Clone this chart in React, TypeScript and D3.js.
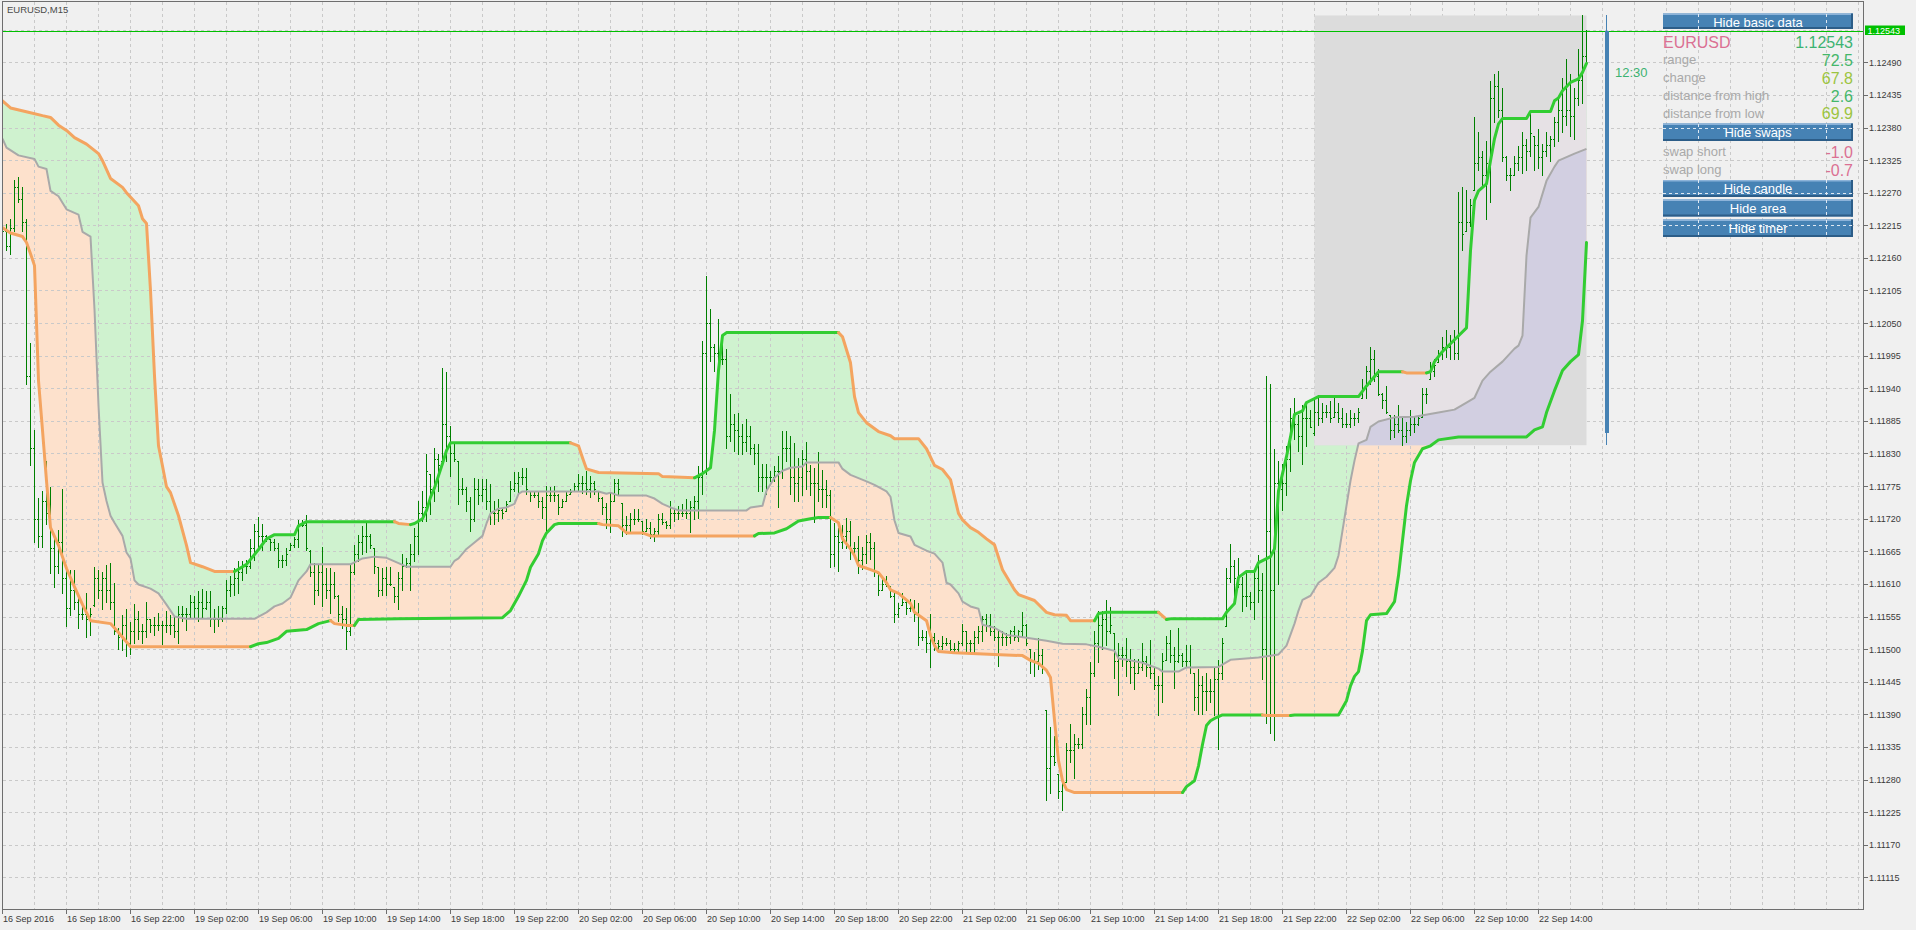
import React from "react";
import * as d3 from "d3";

// ---------------- DATA ----------------
const chartTitle = "EURUSD,M15";

const timeLabels = [
  "16 Sep 2016", "16 Sep 18:00", "16 Sep 22:00", "19 Sep 02:00", "19 Sep 06:00", "19 Sep 10:00",
  "19 Sep 14:00", "19 Sep 18:00", "19 Sep 22:00", "20 Sep 02:00", "20 Sep 06:00", "20 Sep 10:00",
  "20 Sep 14:00", "20 Sep 18:00", "20 Sep 22:00", "21 Sep 02:00", "21 Sep 06:00", "21 Sep 10:00",
  "21 Sep 14:00", "21 Sep 18:00", "21 Sep 22:00", "22 Sep 02:00", "22 Sep 06:00", "22 Sep 10:00",
  "22 Sep 14:00",
];
const barsPerLabel = 16; // M15 bars between time labels (4 hours)
const barsPerGrid = 8;

const priceTicks = [
  1.1249, 1.12435, 1.1238, 1.12325, 1.1227, 1.12215, 1.1216, 1.12105, 1.1205, 1.11995, 1.1194, 1.11885,
  1.1183, 1.11775, 1.1172, 1.11665, 1.1161, 1.11555, 1.115, 1.11445, 1.1139, 1.11335, 1.1128, 1.11225,
  1.1117, 1.11115,
];

const highs = [
  1.12211,1.12217,1.12226,1.12292,1.12297,1.12280,1.12226,1.12017,1.11870,1.11755,
  1.11767,1.11817,1.11773,1.11692,1.11701,1.11770,1.11642,1.11633,1.11633,1.11592,
  1.11579,1.11595,1.11570,1.11639,1.11633,1.11630,1.11642,1.11645,1.11611,1.11536,
  1.11558,1.11567,1.11545,1.11576,1.11564,1.11542,1.11579,1.11551,1.11554,1.11561,
  1.11548,1.11564,1.11558,1.11554,1.11573,1.11573,1.11570,1.11592,1.11589,1.11598,
  1.11601,1.11598,1.11598,1.11567,1.11573,1.11573,1.11617,1.11623,1.11636,1.11648,
  1.11648,1.11651,1.11686,1.11711,1.11723,1.11711,1.11692,1.11686,1.11686,1.11679,
  1.11658,1.11670,1.11679,1.11689,1.11717,1.11717,1.11726,1.11667,1.11645,1.11642,
  1.11673,1.11636,1.11636,1.11630,1.11592,1.11573,1.11570,1.11642,1.11676,1.11692,
  1.11708,1.11714,1.11695,1.11670,1.11639,1.11636,1.11639,1.11639,1.11604,1.11630,
  1.11660,1.11654,1.11677,1.11705,1.11750,1.11767,1.11829,1.11795,1.11840,1.11829,
  1.11975,1.11967,1.11877,1.11848,1.11818,1.11789,1.11773,1.11756,1.11789,1.11787,
  1.11787,1.11787,1.11778,1.11750,1.11753,1.11736,1.11750,1.11784,1.11798,1.11798,
  1.11806,1.11806,1.11767,1.11767,1.11767,1.11756,1.11775,1.11773,1.11775,1.11761,
  1.11753,1.11767,1.11770,1.11781,1.11795,1.11792,1.11801,1.11792,1.11784,1.11767,
  1.11756,1.11747,1.11764,1.11787,1.11787,1.11747,1.11725,1.11730,1.11736,1.11736,
  1.11716,1.11719,1.11714,1.11705,1.11728,1.11730,1.11716,1.11750,1.11736,1.11742,
  1.11744,1.11753,1.11750,1.11759,1.11809,1.12020,1.12130,1.12073,1.12014,1.12057,
  1.12017,1.12006,1.11930,1.11896,1.11899,1.11879,1.11888,1.11877,1.11846,1.11846,
  1.11812,1.11812,1.11801,1.11809,1.11826,1.11868,1.11868,1.11860,1.11848,1.11823,
  1.11836,1.11850,1.11810,1.11805,1.11833,1.11803,1.11786,1.11768,1.11713,1.11705,
  1.11710,1.11722,1.11716,1.11681,1.11690,1.11673,1.11693,1.11696,1.11681,1.11629,
  1.11623,1.11623,1.11606,1.11597,1.11577,1.11594,1.11582,1.11585,1.11582,1.11577,
  1.11533,1.11530,1.11559,1.11527,1.11516,1.11522,1.11519,1.11516,1.11510,1.11513,
  1.11542,1.11530,1.11516,1.11530,1.11539,1.11556,1.11559,1.11559,1.11539,1.11533,
  1.11530,1.11527,1.11533,1.11539,1.11533,1.11562,1.11542,1.11501,1.11495,1.11519,
  1.11501,1.11397,1.11368,1.11353,1.11289,1.11283,1.11341,1.11373,1.11356,1.11350,
  1.11402,1.11432,1.11478,1.11530,1.11565,1.11565,1.11582,1.11571,1.11527,1.11510,
  1.11504,1.11519,1.11501,1.11484,1.11484,1.11510,1.11489,1.11516,1.11469,1.11455,
  1.11493,1.11522,1.11533,1.11504,1.11536,1.11493,1.11507,1.11507,1.11460,1.11466,
  1.11455,1.11460,1.11450,1.11468,1.11482,1.11519,1.11637,1.11678,1.11650,1.11654,
  1.11621,1.11633,1.11596,1.11633,1.11658,1.11629,1.11960,1.11948,1.11838,1.11817,
  1.11813,1.11842,1.11907,1.11923,1.11895,1.11911,1.11915,1.11903,1.11923,1.11928,
  1.11915,1.11911,1.11919,1.11923,1.11915,1.11907,1.11899,1.11903,1.11899,1.11907,
  1.11956,1.11977,1.12009,1.12005,1.11973,1.11932,1.11944,1.11895,1.11895,1.11911,
  1.11891,1.11883,1.11903,1.11891,1.11895,1.11940,1.11940,1.11985,1.11989,1.12005,
  1.12026,1.12038,1.12030,1.12038,1.12271,1.12279,1.12275,1.12259,1.12398,1.12373,
  1.12341,1.12357,1.12459,1.12471,1.12475,1.12447,1.12332,1.12312,1.12332,1.12349,
  1.12373,1.12361,1.12402,1.12365,1.12377,1.12353,1.12373,1.12365,1.12398,1.12430,
  1.12463,1.12496,1.12471,1.12447,1.12512,1.12569,1.12545,
];

const lows = [
  1.12192,1.12173,1.12167,1.12205,1.12255,1.12205,1.11948,1.11811,1.11680,1.11673,
  1.11673,1.11711,1.11629,1.11604,1.11629,1.11595,1.11539,1.11558,1.11567,1.11536,
  1.11551,1.11520,1.11523,1.11573,1.11586,1.11567,1.11579,1.11567,1.11526,1.11501,
  1.11498,1.11489,1.11492,1.11511,1.11517,1.11511,1.11520,1.11529,1.11523,1.11533,
  1.11508,1.11529,1.11526,1.11520,1.11511,1.11548,1.11533,1.11554,1.11554,1.11548,
  1.11554,1.11567,1.11539,1.11529,1.11539,1.11548,1.11561,1.11589,1.11592,1.11595,
  1.11617,1.11629,1.11636,1.11651,1.11673,1.11667,1.11683,1.11667,1.11667,1.11639,
  1.11639,1.11642,1.11667,1.11673,1.11673,1.11708,1.11667,1.11623,1.11576,1.11592,
  1.11573,1.11586,1.11561,1.11586,1.11548,1.11536,1.11501,1.11523,1.11626,1.11648,
  1.11661,1.11664,1.11670,1.11629,1.11589,1.11592,1.11592,1.11608,1.11579,1.11567,
  1.11600,1.11638,1.11600,1.11649,1.11660,1.11716,1.11716,1.11728,1.11750,1.11767,
  1.11818,1.11818,1.11792,1.11818,1.11744,1.11761,1.11733,1.11699,1.11716,1.11744,
  1.11750,1.11736,1.11711,1.11711,1.11716,1.11722,1.11733,1.11750,1.11767,1.11764,
  1.11778,1.11761,1.11750,1.11756,1.11739,1.11722,1.11699,1.11750,1.11750,1.11728,
  1.11739,1.11750,1.11761,1.11767,1.11767,1.11764,1.11761,1.11756,1.11761,1.11750,
  1.11728,1.11705,1.11697,1.11750,1.11761,1.11691,1.11694,1.11699,1.11711,1.11716,
  1.11694,1.11699,1.11688,1.11683,1.11694,1.11711,1.11705,1.11705,1.11716,1.11719,
  1.11725,1.11722,1.11697,1.11719,1.11722,1.11761,1.11795,1.11986,1.11969,1.11969,
  1.11981,1.11840,1.11851,1.11834,1.11829,1.11829,1.11834,1.11829,1.11812,1.11767,
  1.11767,1.11761,1.11784,1.11784,1.11739,1.11789,1.11818,1.11761,1.11750,1.11750,
  1.11760,1.11770,1.11760,1.11715,1.11750,1.11739,1.11739,1.11638,1.11641,1.11632,
  1.11670,1.11670,1.11652,1.11658,1.11629,1.11635,1.11646,1.11652,1.11623,1.11591,
  1.11600,1.11606,1.11588,1.11545,1.11554,1.11574,1.11559,1.11565,1.11548,1.11507,
  1.11516,1.11495,1.11469,1.11498,1.11495,1.11501,1.11507,1.11495,1.11493,1.11495,
  1.11507,1.11495,1.11495,1.11493,1.11510,1.11513,1.11530,1.11524,1.11516,1.11472,
  1.11507,1.11507,1.11510,1.11516,1.11513,1.11522,1.11507,1.11460,1.11455,1.11466,
  1.11460,1.11246,1.11257,1.11304,1.11249,1.11228,1.11275,1.11310,1.11283,1.11333,
  1.11333,1.11373,1.11373,1.11455,1.11478,1.11501,1.11507,1.11527,1.11452,1.11423,
  1.11472,1.11455,1.11443,1.11432,1.11460,1.11464,1.11455,1.11452,1.11432,1.11388,
  1.11411,1.11481,1.11478,1.11434,1.11478,1.11472,1.11472,1.11460,1.11397,1.11391,
  1.11391,1.11398,1.11410,1.11388,1.11331,1.11449,1.11539,1.11613,1.11588,1.11605,
  1.11564,1.11572,1.11568,1.11551,1.11580,1.11449,1.11376,1.11359,1.11347,1.11609,
  1.11735,1.11760,1.11801,1.11854,1.11834,1.11813,1.11842,1.11874,1.11862,1.11878,
  1.11883,1.11891,1.11883,1.11891,1.11883,1.11874,1.11874,1.11874,1.11878,1.11883,
  1.11923,1.11923,1.11948,1.11952,1.11928,1.11907,1.11899,1.11854,1.11858,1.11866,
  1.11844,1.11850,1.11862,1.11866,1.11878,1.11891,1.11915,1.11956,1.11960,1.11985,
  1.11989,1.11993,1.11989,1.11989,1.11989,1.12173,1.12206,1.12214,1.12275,1.12308,
  1.12283,1.12226,1.12255,1.12390,1.12398,1.12324,1.12291,1.12275,1.12300,1.12308,
  1.12304,1.12308,1.12332,1.12308,1.12312,1.12300,1.12332,1.12324,1.12349,1.12357,
  1.12373,1.12385,1.12365,1.12361,1.12418,1.12422,1.12488,
];

const opens = [
  1.12200,1.12205,1.12180,1.12210,1.12280,1.12260,1.12220,1.11960,1.11840,1.11720,
  1.11690,1.11750,1.11730,1.11670,1.11640,1.11680,1.11620,1.11570,1.11600,1.11580,
  1.11560,1.11560,1.11550,1.11575,1.11620,1.11600,1.11620,1.11600,1.11580,1.11530,
  1.11520,1.11540,1.11510,1.11530,1.11550,1.11530,1.11530,1.11550,1.11540,1.11540,
  1.11540,1.11540,1.11540,1.11540,1.11530,1.11560,1.11560,1.11560,1.11580,1.11570,
  1.11580,1.11570,1.11580,1.11550,1.11550,1.11550,1.11570,1.11600,1.11610,1.11620,
  1.11630,1.11640,1.11640,1.11670,1.11700,1.11690,1.11690,1.11685,1.11680,1.11670,
  1.11650,1.11650,1.11668,1.11675,1.11685,1.11710,1.11710,1.11665,1.11630,1.11600,
  1.11630,1.11610,1.11600,1.11610,1.11590,1.11560,1.11550,1.11530,1.11630,1.11660,
  1.11680,1.11690,1.11690,1.11670,1.11639,1.11600,1.11620,1.11610,1.11604,1.11590,
  1.11620,1.11640,1.11645,1.11660,1.11690,1.11730,1.11740,1.11795,1.11770,1.11820,
  1.11818,1.11880,1.11860,1.11830,1.11818,1.11770,1.11770,1.11750,1.11720,1.11770,
  1.11760,1.11770,1.11750,1.11730,1.11730,1.11735,1.11733,1.11750,1.11770,1.11780,
  1.11790,1.11790,1.11767,1.11760,1.11760,1.11750,1.11740,1.11760,1.11760,1.11760,
  1.11740,1.11750,1.11761,1.11767,1.11775,1.11780,1.11780,1.11770,1.11780,1.11767,
  1.11755,1.11740,1.11720,1.11750,1.11780,1.11747,1.11710,1.11710,1.11720,1.11720,
  1.11716,1.11700,1.11705,1.11695,1.11700,1.11720,1.11715,1.11710,1.11730,1.11730,
  1.11730,1.11730,1.11730,1.11740,1.11750,1.11790,1.12000,1.12050,1.12010,1.12000,
  1.11990,1.11990,1.11860,1.11880,1.11870,1.11860,1.11850,1.11860,1.11840,1.11830,
  1.11790,1.11790,1.11790,1.11790,1.11800,1.11800,1.11840,1.11840,1.11790,1.11780,
  1.11790,1.11820,1.11800,1.11780,1.11780,1.11770,1.11770,1.11760,1.11660,1.11690,
  1.11680,1.11690,1.11700,1.11670,1.11670,1.11650,1.11660,1.11680,1.11670,1.11629,
  1.11600,1.11610,1.11606,1.11590,1.11560,1.11574,1.11580,1.11570,1.11570,1.11560,
  1.11520,1.11520,1.11510,1.11520,1.11510,1.11505,1.11510,1.11510,1.11500,1.11500,
  1.11510,1.11530,1.11510,1.11510,1.11520,1.11530,1.11550,1.11540,1.11530,1.11520,
  1.11520,1.11520,1.11520,1.11530,1.11520,1.11530,1.11540,1.11501,1.11480,1.11480,
  1.11490,1.11397,1.11300,1.11320,1.11289,1.11260,1.11275,1.11330,1.11330,1.11340,
  1.11340,1.11390,1.11420,1.11460,1.11510,1.11540,1.11550,1.11530,1.11527,1.11480,
  1.11490,1.11490,1.11480,1.11470,1.11460,1.11470,1.11480,1.11470,1.11460,1.11440,
  1.11440,1.11481,1.11510,1.11490,1.11480,1.11490,1.11480,1.11480,1.11460,1.11420,
  1.11440,1.11430,1.11430,1.11430,1.11450,1.11460,1.11539,1.11620,1.11640,1.11620,
  1.11610,1.11590,1.11590,1.11580,1.11620,1.11600,1.11500,1.11700,1.11600,1.11780,
  1.11770,1.11780,1.11820,1.11890,1.11880,1.11860,1.11890,1.11890,1.11865,1.11900,
  1.11890,1.11900,1.11900,1.11891,1.11900,1.11890,1.11880,1.11880,1.11890,1.11890,
  1.11923,1.11940,1.11970,1.11990,1.11960,1.11930,1.11920,1.11895,1.11870,1.11880,
  1.11870,1.11860,1.11870,1.11880,1.11880,1.11891,1.11930,1.11956,1.11970,1.11985,
  1.12000,1.12010,1.12010,1.12020,1.12000,1.12220,1.12206,1.12220,1.12275,1.12320,
  1.12330,1.12300,1.12320,1.12430,1.12450,1.12410,1.12330,1.12300,1.12300,1.12320,
  1.12330,1.12350,1.12340,1.12365,1.12350,1.12330,1.12340,1.12350,1.12360,1.12390,
  1.12410,1.12400,1.12410,1.12400,1.12430,1.12460,1.12500,
];

const closes = [
  1.12205,1.12180,1.12210,1.12280,1.12260,1.12220,1.11960,1.11840,1.11720,1.11690,
  1.11750,1.11730,1.11670,1.11640,1.11680,1.11620,1.11570,1.11600,1.11580,1.11560,
  1.11560,1.11550,1.11560,1.11620,1.11600,1.11620,1.11600,1.11580,1.11530,1.11520,
  1.11540,1.11510,1.11530,1.11550,1.11530,1.11530,1.11550,1.11540,1.11540,1.11540,
  1.11540,1.11540,1.11540,1.11530,1.11560,1.11560,1.11560,1.11580,1.11570,1.11580,
  1.11570,1.11580,1.11550,1.11550,1.11550,1.11570,1.11600,1.11610,1.11620,1.11630,
  1.11640,1.11640,1.11670,1.11700,1.11690,1.11690,1.11685,1.11680,1.11670,1.11650,
  1.11650,1.11660,1.11675,1.11685,1.11710,1.11710,1.11670,1.11630,1.11600,1.11630,
  1.11610,1.11600,1.11610,1.11590,1.11560,1.11550,1.11530,1.11630,1.11660,1.11680,
  1.11690,1.11690,1.11675,1.11640,1.11600,1.11620,1.11610,1.11610,1.11590,1.11620,
  1.11640,1.11645,1.11660,1.11690,1.11730,1.11740,1.11800,1.11770,1.11820,1.11810,
  1.11880,1.11860,1.11830,1.11820,1.11770,1.11770,1.11750,1.11720,1.11770,1.11760,
  1.11770,1.11750,1.11730,1.11730,1.11735,1.11730,1.11745,1.11770,1.11780,1.11790,
  1.11790,1.11770,1.11760,1.11760,1.11750,1.11740,1.11760,1.11760,1.11760,1.11740,
  1.11750,1.11760,1.11765,1.11775,1.11780,1.11780,1.11770,1.11780,1.11770,1.11755,
  1.11740,1.11720,1.11750,1.11780,1.11770,1.11710,1.11710,1.11720,1.11720,1.11720,
  1.11700,1.11705,1.11695,1.11700,1.11720,1.11715,1.11710,1.11730,1.11730,1.11730,
  1.11730,1.11730,1.11740,1.11750,1.11790,1.12000,1.12050,1.12010,1.12000,1.11990,
  1.11990,1.11860,1.11880,1.11870,1.11860,1.11850,1.11860,1.11840,1.11830,1.11790,
  1.11790,1.11790,1.11790,1.11800,1.11800,1.11840,1.11840,1.11790,1.11780,1.11790,
  1.11820,1.11800,1.11780,1.11780,1.11770,1.11770,1.11760,1.11660,1.11690,1.11680,
  1.11690,1.11700,1.11670,1.11670,1.11650,1.11660,1.11680,1.11670,1.11630,1.11600,
  1.11610,1.11610,1.11590,1.11560,1.11570,1.11580,1.11570,1.11570,1.11560,1.11520,
  1.11520,1.11510,1.11520,1.11510,1.11505,1.11510,1.11510,1.11500,1.11500,1.11510,
  1.11530,1.11510,1.11510,1.11520,1.11530,1.11550,1.11540,1.11530,1.11520,1.11520,
  1.11520,1.11520,1.11530,1.11520,1.11530,1.11540,1.11510,1.11480,1.11480,1.11490,
  1.11470,1.11300,1.11320,1.11310,1.11260,1.11270,1.11330,1.11330,1.11340,1.11340,
  1.11390,1.11420,1.11460,1.11510,1.11540,1.11550,1.11530,1.11540,1.11480,1.11490,
  1.11490,1.11480,1.11470,1.11460,1.11470,1.11480,1.11470,1.11460,1.11440,1.11440,
  1.11480,1.11510,1.11490,1.11480,1.11490,1.11480,1.11480,1.11470,1.11420,1.11440,
  1.11430,1.11430,1.11430,1.11450,1.11460,1.11510,1.11620,1.11640,1.11620,1.11610,
  1.11590,1.11590,1.11580,1.11620,1.11600,1.11500,1.11700,1.11600,1.11780,1.11770,
  1.11780,1.11820,1.11890,1.11880,1.11860,1.11890,1.11890,1.11875,1.11900,1.11890,
  1.11900,1.11900,1.11890,1.11900,1.11890,1.11880,1.11880,1.11890,1.11890,1.11900,
  1.11940,1.11970,1.11990,1.11960,1.11930,1.11920,1.11900,1.11870,1.11880,1.11870,
  1.11860,1.11870,1.11880,1.11880,1.11890,1.11930,1.11930,1.11970,1.11980,1.12000,
  1.12010,1.12010,1.12020,1.12000,1.12220,1.12200,1.12220,1.12250,1.12320,1.12330,
  1.12300,1.12320,1.12430,1.12450,1.12410,1.12330,1.12300,1.12300,1.12320,1.12330,
  1.12350,1.12340,1.12370,1.12350,1.12330,1.12340,1.12350,1.12360,1.12390,1.12410,
  1.12400,1.12410,1.12400,1.12430,1.12460,1.12500,1.12543,
];

// channel lines: [bar index, price]
const upperBand: [number, number][] = [
  [0,1.12425],[2,1.12413],[7,1.12405],[10,1.12400],[12,1.12397],[14,1.12384],[16,1.12375],[18,1.12363],
  [21,1.12352],[24,1.12336],[25,1.12324],[27,1.12294],[30,1.12279],[31,1.12270],[34,1.12248],[35,1.12226],
  [36,1.12218],[37,1.12105],[38,1.11961],[39,1.11843],[40,1.11809],[41,1.11774],[42,1.11764],[44,1.11725],
  [46,1.11675],[47,1.11646],[50,1.11639],[53,1.11631],[58,1.11631],[61,1.11643],[64,1.11668],[66,1.11686],
  [68,1.11693],[73,1.11693],[74,1.11708],[76,1.11715],[98,1.11715],[99,1.11712],[102,1.11710],[103,1.11712],
  [105,1.11720],[106,1.11734],[107,1.11756],[108,1.11772],[110,1.11813],[111,1.11835],[112,1.11848],[142,1.11848],
  [144,1.11843],[145,1.11823],[146,1.11804],[149,1.11798],[164,1.11796],[165,1.11791],[173,1.11789],[175,1.11796],
  [177,1.11806],[178,1.11869],[179,1.11970],[180,1.12029],[181,1.12034],[209,1.12034],[210,1.12027],[212,1.11983],
  [213,1.11926],[214,1.11899],[216,1.11882],[219,1.11867],[222,1.11860],[223,1.11855],[229,1.11855],[231,1.11838],
  [233,1.11810],[235,1.11803],[237,1.11786],[239,1.11729],[240,1.11718],[242,1.11705],[244,1.11697],[246,1.11686],
  [248,1.11676],[250,1.11634],[253,1.11600],[254,1.11592],[258,1.11582],[261,1.11562],[263,1.11558],[266,1.11557],
  [267,1.11548],[273,1.11548],[274,1.11560],[276,1.11562],[289,1.11562],[291,1.11550],[292,1.11551],[305,1.11551],
  [306,1.11562],[308,1.11577],[309,1.11621],[311,1.11631],[313,1.11631],[314,1.11646],[317,1.11656],[318,1.11669],
  [319,1.11767],[321,1.11825],[322,1.11858],[323,1.11896],[325,1.11902],[326,1.11916],[329,1.11926],[339,1.11926],
  [341,1.11944],[344,1.11968],[350,1.11968],[351,1.11966],[356,1.11966],[357,1.11968],[358,1.11985],[360,1.12002],
  [363,1.12022],[366,1.12042],[367,1.12172],[368,1.12257],[369,1.12273],[371,1.12285],[372,1.12324],[373,1.12361],
  [374,1.12386],[375,1.12395],[381,1.12395],[382,1.12407],[387,1.12407],[388,1.12425],[389,1.12430],[390,1.12442],
  [392,1.12456],[394,1.12462],[395,1.12473],[396,1.12488],
];

const lowerBand: [number, number][] = [
  [0,1.12211],[2,1.12202],[5,1.12196],[6,1.12186],[7,1.12167],[8,1.12147],[9,1.11953],[10,1.11869],
  [11,1.11784],[12,1.11705],[14,1.11675],[16,1.11636],[18,1.11605],[20,1.11575],[22,1.11548],[27,1.11543],
  [29,1.11528],[32,1.11504],[62,1.11504],[64,1.11509],[66,1.11511],[69,1.11518],[71,1.11530],[76,1.11533],
  [79,1.11543],[82,1.11548],[83,1.11543],[86,1.11540],[88,1.11540],[89,1.11550],[99,1.11551],[125,1.11553],
  [127,1.11565],[129,1.11589],[131,1.11616],[132,1.11638],[134,1.11661],[135,1.11683],[136,1.11696],[138,1.11710],
  [139,1.11712],[149,1.11712],[150,1.11710],[154,1.11708],[156,1.11696],[160,1.11696],[162,1.11691],[188,1.11691],
  [189,1.11695],[193,1.11696],[196,1.11703],[199,1.11716],[202,1.11720],[204,1.11722],[207,1.11722],[209,1.11713],
  [210,1.11686],[212,1.11669],[213,1.11658],[214,1.11641],[217,1.11634],[219,1.11629],[221,1.11612],[222,1.11600],
  [224,1.11594],[227,1.11577],[228,1.11562],[231,1.11548],[232,1.11523],[233,1.11506],[234,1.11496],[238,1.11494],
  [248,1.11491],[255,1.11489],[257,1.11481],[259,1.11476],[261,1.11464],[262,1.11452],[263,1.11380],[264,1.11312],
  [265,1.11278],[266,1.11263],[268,1.11258],[295,1.11258],[296,1.11268],[298,1.11278],[299,1.11303],[300,1.11339],
  [301,1.11371],[302,1.11379],[303,1.11383],[305,1.11389],[315,1.11389],[316,1.11388],[322,1.11388],[323,1.11389],
  [334,1.11389],[336,1.11413],[337,1.11438],[338,1.11454],[339,1.11462],[340,1.11497],[341,1.11548],[342,1.11558],
  [346,1.11560],[348,1.11580],[349,1.11624],[350,1.11683],[351,1.11742],[352,1.11784],[353,1.11815],[355,1.11838],
  [357,1.11843],[359,1.11853],[364,1.11858],[381,1.11858],[383,1.11870],[385,1.11875],[386,1.11899],[388,1.11936],
  [390,1.11970],[392,1.11985],[394,1.11997],[395,1.12054],[396,1.12186],
];

const midBand: [number, number][] = [
  [0,1.12361],[1,1.12346],[4,1.12333],[8,1.12327],[9,1.12314],[11,1.12310],[12,1.12273],[14,1.12264],
  [16,1.12242],[19,1.12233],[20,1.12204],[22,1.12196],[23,1.12073],[24,1.11911],[25,1.11781],[26,1.11750],
  [27,1.11725],[28,1.11713],[30,1.11691],[31,1.11663],[32,1.11653],[33,1.11616],[34,1.11609],[37,1.11602],
  [39,1.11594],[41,1.11575],[43,1.11555],[46,1.11551],[63,1.11551],[66,1.11562],[68,1.11572],[70,1.11577],
  [72,1.11587],[74,1.11616],[76,1.11631],[77,1.11643],[87,1.11643],[90,1.11653],[93,1.11656],[96,1.11654],
  [98,1.11648],[101,1.11639],[112,1.11639],[113,1.11649],[114,1.11653],[116,1.11669],[118,1.11680],[120,1.11691],
  [121,1.11712],[122,1.11729],[124,1.11737],[126,1.11739],[128,1.11745],[129,1.11762],[130,1.11766],[149,1.11766],
  [151,1.11762],[152,1.11764],[154,1.11759],[161,1.11759],[163,1.11754],[165,1.11745],[167,1.11739],[169,1.11734],
  [186,1.11734],[187,1.11739],[190,1.11742],[191,1.11767],[193,1.11789],[195,1.11801],[197,1.11806],[200,1.11808],
  [201,1.11815],[209,1.11815],[210,1.11804],[212,1.11794],[216,1.11783],[218,1.11777],[221,1.11766],[222,1.11757],
  [223,1.11717],[224,1.11696],[227,1.11690],[228,1.11676],[231,1.11666],[233,1.11661],[235,1.11646],[236,1.11612],
  [237,1.11609],[239,1.11594],[240,1.11580],[242,1.11572],[244,1.11568],[245,1.11541],[248,1.11536],[251,1.11524],
  [256,1.11519],[261,1.11514],[265,1.11509],[271,1.11508],[274,1.11504],[278,1.11497],[279,1.11484],[282,1.11481],
  [285,1.11477],[287,1.11472],[289,1.11467],[290,1.11462],[294,1.11462],[296,1.11469],[304,1.11470],[307,1.11482],
  [314,1.11486],[319,1.11491],[321,1.11506],[323,1.11543],[324,1.11565],[325,1.11583],[327,1.11590],[329,1.11612],
  [331,1.11622],[333,1.11637],[334,1.11658],[335,1.11700],[336,1.11742],[337,1.11784],[338,1.11818],[339,1.11847],
  [341,1.11853],[342,1.11875],[344,1.11884],[348,1.11891],[353,1.11892],[359,1.11899],[363,1.11904],[366,1.11916],
  [368,1.11924],[370,1.11953],[372,1.11968],[375,1.11985],[378,1.12007],[379,1.12012],[380,1.12029],[381,1.12164],
  [382,1.12228],[384,1.12246],[385,1.12268],[386,1.12290],[388,1.12314],[389,1.12324],[393,1.12336],[396,1.12344],
];

const currentPrice = 1.12543;
const dayStartBar = 328;
const dayOpen = 1.11865;
const dayHigh = 1.12569;
const dayLow = 1.11844;
const candleBar = 401;
const timerBar = 403;

const infoSymbol = "EURUSD";
const infoPrice = "1.12543";
const basicLabels = ["range", "change", "distance from high", "distance from low"];
const basicValues = ["72.5", "67.8", "2.6", "69.9"];
const swapLabels = ["swap short", "swap long"];
const swapValues = ["-1.0", "-0.7"];
const buttonLabels = ["Hide basic data", "Hide swaps", "Hide candle", "Hide area", "Hide timer"];
const timerText = "12:30";

// ---------------- STYLE ----------------
const C = {
  bg: "#f0f0f0",
  grid: "#c9c9c9",
  frame: "#6e6e6e",
  axisText: "#3a3a3a",
  bar: "#008000",
  up: "#32cd32",
  down: "#f4a460",
  mid: "#a9a9a9",
  fillUp: "#cff2cf",
  fillDown: "#fde1cc",
  box: "#dcdcdc",
  boxUp: "#e6e1e5",
  boxDown: "#d2cfe1",
  priceLine: "#00c000",
  candle: "#4682b4",
  timer: "#3cb371",
  label: "#a9a9a9",
  symbol: "#db7093",
  price: "#3cb371",
  btn: "#4682b4",
  btnLight: "#8cb3d9",
  btnDark: "#2c5d88",
};
const valueColors = ["#45b76a", "#9cc441", "#45b76a", "#9cc441"];
const FONT = "'Liberation Sans', Arial, sans-serif";

function trendRuns(knots: [number, number][], startUp: boolean) {
  const runs: { up: boolean; pts: [number, number][] }[] = [];
  let up = startUp;
  let cur: [number, number][] = [knots[0]];
  for (let k = 1; k < knots.length; k++) {
    const d = knots[k][1] - knots[k - 1][1];
    const segUp = d > 1e-9 ? true : d < -1e-9 ? false : up;
    if (segUp !== up && cur.length > 1) {
      runs.push({ up, pts: cur });
      cur = [knots[k - 1]];
    }
    up = segUp;
    cur.push(knots[k]);
  }
  runs.push({ up, pts: cur });
  return runs;
}

export default function App() {
  const W = 1916, H = 930;
  const L = 2.5, T = 1.5, R = 1863.5, B = 909.5;
  const x = d3.scaleLinear().domain([0, 396]).range([2.5, 1586.5]);
  const y = d3.scaleLinear().domain([1.11115, 1.1249]).range([877.3, 62.3]);
  const line = d3.line<[number, number]>().x((d) => x(d[0])).y((d) => y(d[1]));
  const poly = (a: [number, number][], b: [number, number][]) => (line([...a, ...b.slice().reverse()]) || "") + "Z";
  const fillUpPath = poly(upperBand, midBand);
  const fillDownPath = poly(midBand, lowerBand);

  const lastGridBar = Math.floor((R - 2.5) / 4 / barsPerGrid) * barsPerGrid;
  const gridBars = d3.range(0, lastGridBar + 1, barsPerGrid);
  const labelBars = timeLabels.map((_, k) => k * barsPerLabel);

  const boxX0 = x(dayStartBar), boxX1 = x(highs.length - 1);
  const boxY0 = y(dayHigh), boxY1 = y(dayLow);

  const upRuns = trendRuns(upperBand, false);
  const lowRuns = trendRuns(lowerBand, false);

  const px = (v: number) => Math.round(v);

  const btnX = 1663, btnW = 190;
  const btnGeo = [
    { y: 13.5, h: 15.5, base: 26.5 },
    { y: 123.5, h: 17.5, base: 136.5 },
    { y: 180, h: 17, base: 192.5 },
    { y: 199.5, h: 17, base: 212.5 },
    { y: 219.5, h: 17.5, base: 232.5 },
  ];
  const labelBase = [64, 82, 100, 118];
  const valueBase = [66, 83.5, 101.5, 119];
  const swapLabelBase = [156, 174];
  const swapValueBase = [157.5, 176];
  const valRight = 1853;

  return (
    <svg width={W} height={H} viewBox={`0 0 ${W} ${H}`} style={{ position: "absolute", left: 0, top: 0, display: "block", background: C.bg }}>
      <defs>
        <clipPath id="plotClip"><rect x={L} y={T} width={R - L} height={B - T} /></clipPath>
        <clipPath id="boxClip"><rect x={boxX0} y={boxY0} width={boxX1 - boxX0} height={boxY1 - boxY0} /></clipPath>
        {btnGeo.map((g, k) => (
          <clipPath id={`btnClip${k}`} key={k}><rect x={btnX} y={g.y} width={btnW} height={g.h} /></clipPath>
        ))}
      </defs>
      <rect x={0} y={0} width={W} height={H} fill={C.bg} />

      <g clipPath="url(#plotClip)">
        {/* fills */}
        <path d={fillUpPath} fill={C.fillUp} />
        <path d={fillDownPath} fill={C.fillDown} />

        {/* grid */}
        <g stroke={C.grid} strokeWidth={1} strokeDasharray="3,3" shapeRendering="crispEdges">
          {gridBars.map((b) => (
            <line key={`gv${b}`} x1={x(b)} x2={x(b)} y1={T} y2={B} />
          ))}
          {[...priceTicks, 1.12545].map((p) => (
            <line key={`gh${p}`} x1={L} x2={R} y1={px(y(p)) + 0.5} y2={px(y(p)) + 0.5} />
          ))}
        </g>

        {/* daily range area */}
        <rect x={boxX0} y={boxY0} width={boxX1 - boxX0} height={boxY1 - boxY0} fill={C.box} />
        <g clipPath="url(#boxClip)">
          <path d={fillUpPath} fill={C.boxUp} />
          <path d={fillDownPath} fill={C.boxDown} />
        </g>

        {/* bars */}
        <g fill={C.bar} shapeRendering="crispEdges">
          {highs.map((h, i) => {
            const cx = x(i);
            const yh = y(h), yl = y(lows[i]);
            return (
              <g key={i}>
                <rect x={cx - 0.5} y={px(yh)} width={1} height={Math.max(1, px(yl) - px(yh) + 1)} />
                <rect x={cx - 1.5} y={px(y(opens[i]))} width={1} height={1} />
                <rect x={cx + 0.5} y={px(y(closes[i]))} width={1} height={1} />
              </g>
            );
          })}
        </g>

        {/* mid line */}
        <path d={line(midBand) || ""} fill="none" stroke={C.mid} strokeWidth={2} strokeLinejoin="round" />
        {/* channel lines */}
        {lowRuns.map((r, k) => (
          <path key={`l${k}`} d={line(r.pts) || ""} fill="none" stroke={r.up ? C.up : C.down} strokeWidth={3} strokeLinejoin="round" strokeLinecap="round" />
        ))}
        {upRuns.map((r, k) => (
          <path key={`u${k}`} d={line(r.pts) || ""} fill="none" stroke={r.up ? C.up : C.down} strokeWidth={3} strokeLinejoin="round" strokeLinecap="round" />
        ))}

        {/* current price line */}
        <line x1={L} x2={R} y1={px(y(currentPrice)) + 0.5} y2={px(y(currentPrice)) + 0.5} stroke={C.priceLine} strokeWidth={1} shapeRendering="crispEdges" />

        {/* daily candle */}
        <line x1={x(candleBar)} x2={x(candleBar)} y1={y(dayHigh)} y2={y(dayLow)} stroke={C.candle} strokeWidth={1} shapeRendering="crispEdges" />
        <rect x={x(candleBar) - 2} y={y(currentPrice)} width={4} height={y(dayOpen) - y(currentPrice)} fill={C.candle} shapeRendering="crispEdges" />

        {/* timer */}
        <text x={x(timerBar) + 0.5} y={76.5} fontFamily={FONT} fontSize={13} fill={C.timer}>{timerText}</text>
      </g>

      {/* frame */}
      <rect x={L} y={T} width={R - L} height={B - T} fill="none" stroke={C.frame} strokeWidth={1} shapeRendering="crispEdges" />

      {/* title */}
      <text x={7} y={12.5} fontFamily={FONT} fontSize={9.5} fill="#4a4a4a">{chartTitle}</text>

      {/* y axis */}
      <g fontFamily={FONT} fontSize={9} fill={C.axisText}>
        {priceTicks.map((p) => (
          <g key={`yt${p}`}>
            <line x1={R} x2={R + 4} y1={px(y(p)) + 0.5} y2={px(y(p)) + 0.5} stroke={C.frame} shapeRendering="crispEdges" />
            <text x={1869} y={y(p) + 3.5}>{p.toFixed(5)}</text>
          </g>
        ))}
      </g>
      <rect x={1865} y={25.5} width={40} height={9.5} fill={C.priceLine} />
      <text x={1867.5} y={33.5} fontFamily={FONT} fontSize={9} fill="#ffffff">{currentPrice.toFixed(5)}</text>

      {/* x axis */}
      <g fontFamily={FONT} fontSize={9} fill={C.axisText}>
        {labelBars.map((b, k) => (
          <g key={`xt${b}`}>
            <line x1={x(b)} x2={x(b)} y1={B} y2={B + 4} stroke={C.frame} shapeRendering="crispEdges" />
            <text x={x(b) + 0.5} y={922}>{timeLabels[k]}</text>
          </g>
        ))}
      </g>

      {/* info panel */}
      <g fontFamily={FONT}>
        {btnGeo.map((g, k) => (
          <g key={`btn${k}`}>
            <rect x={btnX} y={g.y} width={btnW} height={g.h} fill={C.btn} />
            <rect x={btnX} y={g.y} width={btnW} height={1.5} fill={C.btnLight} />
            <rect x={btnX} y={g.y + g.h - 2} width={btnW} height={2} fill={C.btnDark} />
            <rect x={btnX + btnW - 2} y={g.y} width={2} height={g.h} fill={C.btnDark} />
            <g clipPath={`url(#btnClip${k})`} stroke="#dfe8f2" strokeDasharray="3,3" shapeRendering="crispEdges">
              <line x1={1698.5} x2={1698.5} y1={g.y} y2={g.y + g.h} />
              <line x1={1826.5} x2={1826.5} y1={g.y} y2={g.y + g.h} />
              {priceTicks.map((p) => (
                <line key={p} x1={btnX} x2={btnX + btnW} y1={px(y(p)) + 0.5} y2={px(y(p)) + 0.5} />
              ))}
            </g>
            <text x={btnX + btnW / 2} y={g.base} textAnchor="middle" fontSize={13} fill="#ffffff">{buttonLabels[k]}</text>
          </g>
        ))}
        <text x={btnX} y={48.3} fontSize={16} fill={C.symbol}>{infoSymbol}</text>
        <text x={valRight} y={48.3} fontSize={16} fill={C.price} textAnchor="end">{infoPrice}</text>
        {basicLabels.map((s, k) => (
          <g key={`bl${k}`}>
            <text x={btnX} y={labelBase[k]} fontSize={13} fill={C.label}>{s}</text>
            <text x={valRight} y={valueBase[k]} fontSize={16} fill={valueColors[k]} textAnchor="end">{basicValues[k]}</text>
          </g>
        ))}
        {swapLabels.map((s, k) => (
          <g key={`sl${k}`}>
            <text x={btnX} y={swapLabelBase[k]} fontSize={13} fill={C.label}>{s}</text>
            <text x={valRight} y={swapValueBase[k]} fontSize={16} fill={C.symbol} textAnchor="end">{swapValues[k]}</text>
          </g>
        ))}
      </g>
    </svg>
  );
}
